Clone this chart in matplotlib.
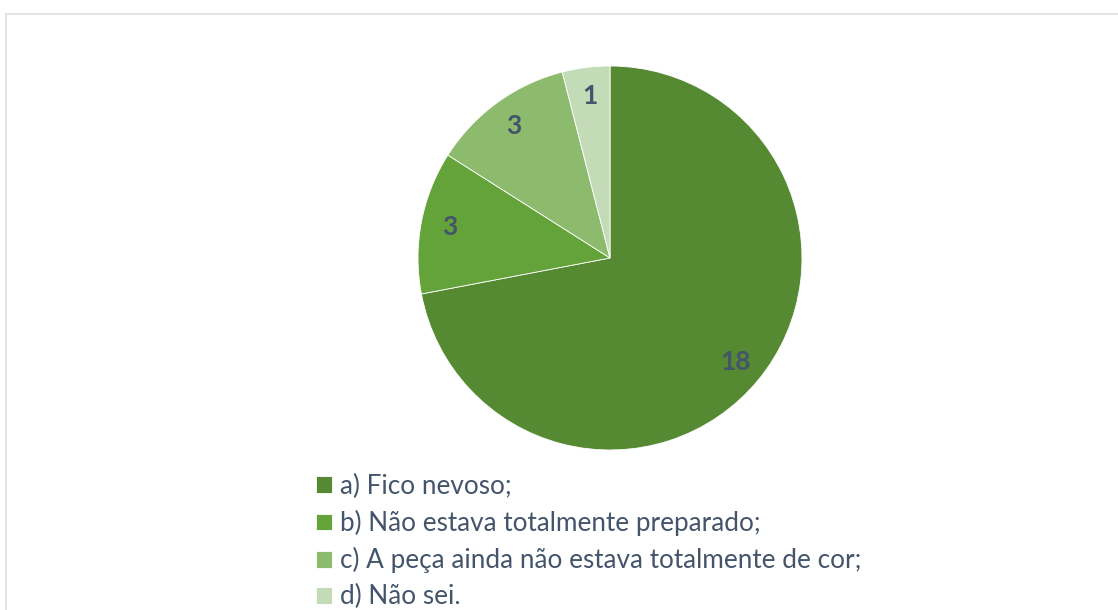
import matplotlib
matplotlib.use('Agg')
import matplotlib.pyplot as plt
from matplotlib.patches import Rectangle

# ── DATA ─────────────────────────────────────────────────────────────────────
categories = ['a) Fico nevoso;',
              'b) Não estava totalmente preparado;',
              'c) A peça ainda não estava totalmente de cor;',
              'd) Não sei.']
values = [18, 3, 3, 1]
colors = ['#558a33', '#64a23a', '#8dbb6e', '#c4dbb8']

TEXT = '#44546a'
plt.rcParams['font.family'] = ['Lato', 'DejaVu Sans']

W, H = 1118, 610
fig = plt.figure(figsize=(W / 100, H / 100), dpi=100)

# light border of the chart area
fig.patches.append(Rectangle((6 / W, -0.1), 1.2, (H - 14) / H + 0.1,
                             transform=fig.transFigure, fill=False,
                             edgecolor='#e2e4e8', lw=1.5))

# ── PIE ──────────────────────────────────────────────────────────────────────
cx, cy, r = 610, 258, 192
ax = fig.add_axes([(cx - r) / W, (H - cy - r) / H, 2 * r / W, 2 * r / H])
wedges, texts = ax.pie(values, colors=colors, startangle=90, counterclock=False,
                       labels=[str(v) for v in values], labeldistance=0.85,
                       wedgeprops=dict(edgecolor='white', linewidth=0.6),
                       textprops=dict(color=TEXT, fontsize=19, fontweight='bold'))
for t in texts:
    t.set_horizontalalignment('center')
    t.set_verticalalignment('center')
ax.set_xlim(-1, 1)
ax.set_ylim(-1, 1)
ax.set_aspect('equal')

# ── LEGEND ───────────────────────────────────────────────────────────────────
fig.legend(wedges, categories, loc='upper left',
           bbox_to_anchor=(316 / W, 1 - 474 / H),
           frameon=False, fontsize=18.8, labelcolor=TEXT,
           handlelength=0.62, handleheight=0.62, handletextpad=0.3,
           labelspacing=0.42, borderpad=0, borderaxespad=0)

fig.savefig('out.png', dpi=100)
